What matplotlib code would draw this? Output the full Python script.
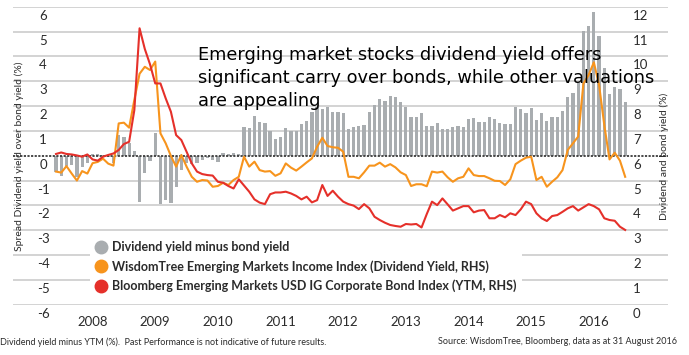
import numpy as np
import pandas as pd
import matplotlib
matplotlib.use("Agg")
import matplotlib.pyplot as plt
import matplotlib.transforms as mtransforms
from matplotlib.lines import Line2D

plt.rcParams['font.family'] = ['Lato', 'DejaVu Sans']

# monthly observations, Jun 2007 - Jul 2016
months = pd.date_range("2007-06-01", periods=110, freq="MS")

# dividend yield minus bond yield (LHS, %)
spread = [-0.64, -0.82, -0.42, -0.38, -0.87, -0.44, -0.31, 0.07, 0.07, 0.03,
          -0.04, -0.31, 0.83, 0.77, 0.50, 0.20, -1.85, -0.70, -0.20, 0.93,
          -1.95, -1.80, -1.90, -1.27, -0.56, -0.30, -0.33, -0.31, -0.17, -0.11,
          -0.17, -0.24, 0.09, 0.07, 0.12, 0.08, 1.17, 1.13, 1.60, 1.37,
          1.30, 0.99, 0.66, 0.77, 1.10, 1.00, 1.00, 1.28, 1.41, 1.77,
          1.97, 1.87, 1.97, 1.74, 1.74, 1.70, 1.06, 1.14, 1.19, 1.23,
          1.74, 2.04, 2.27, 2.21, 2.42, 2.35, 2.15, 1.97, 1.54, 1.54,
          1.70, 1.19, 1.19, 1.30, 1.06, 1.06, 1.17, 1.19, 1.17, 1.48,
          1.50, 1.34, 1.34, 1.57, 1.48, 1.30, 1.26, 1.26, 1.95, 1.88,
          1.70, 1.91, 1.44, 1.70, 1.40, 1.57, 1.54, 1.80, 2.38, 2.51,
          2.98, 5.03, 5.22, 5.77, 4.82, 3.52, 2.47, 2.75, 2.67, 2.17]

# WisdomTree EM Income Index dividend yield (RHS, %)
div_yield = [5.36, 5.32, 5.58, 5.28, 5.00, 5.38, 5.28, 5.70, 5.75, 5.88,
             5.68, 5.60, 7.30, 7.33, 7.13, 8.25, 9.30, 9.58, 9.45, 9.79,
             6.90, 6.50, 5.99, 5.56, 6.03, 5.56, 5.15, 4.95, 5.02, 5.00,
             4.75, 4.78, 4.91, 4.82, 5.02, 5.15, 5.96, 5.56, 5.76, 5.42,
             5.36, 5.38, 5.19, 5.29, 5.69, 5.52, 5.40, 5.56, 5.73, 5.89,
             6.36, 6.72, 6.39, 6.34, 6.32, 6.16, 5.15, 5.15, 5.09, 5.33,
             5.60, 5.60, 5.72, 5.56, 5.66, 5.53, 5.33, 5.22, 4.78, 4.85,
             4.85, 4.77, 5.36, 5.32, 5.36, 5.13, 4.95, 5.09, 5.15, 5.49,
             5.22, 5.18, 5.18, 5.09, 4.99, 4.98, 4.82, 5.05, 5.66, 5.80,
             5.92, 5.96, 5.02, 5.15, 4.75, 4.95, 5.13, 5.42, 6.23, 6.50,
             6.77, 8.90, 9.25, 9.76, 8.85, 7.23, 5.85, 6.12, 5.80, 5.15]

# Bloomberg EM USD IG Corporate Bond Index YTM (RHS, %)
bond_ytm = [6.07, 6.13, 6.07, 6.05, 6.01, 5.96, 6.05, 5.85, 5.80, 5.96,
            6.03, 6.09, 6.23, 6.47, 6.56, 7.84, 11.13, 10.30, 9.68, 8.91,
            8.91, 8.31, 7.77, 6.83, 6.63, 6.16, 5.69, 5.36, 5.26, 5.22,
            5.20, 4.95, 4.91, 4.78, 4.68, 5.05, 4.80, 4.55, 4.24, 4.11,
            4.05, 4.45, 4.52, 4.52, 4.55, 4.48, 4.38, 4.24, 4.35, 4.12,
            4.21, 4.82, 4.38, 4.59, 4.35, 4.15, 4.05, 3.99, 3.85, 4.05,
            3.88, 3.54, 3.41, 3.30, 3.21, 3.17, 3.14, 3.25, 3.23, 3.25,
            3.11, 3.65, 4.15, 4.01, 4.28, 4.04, 3.79, 3.88, 3.97, 3.97,
            3.72, 3.79, 3.81, 3.48, 3.48, 3.61, 3.52, 3.68, 3.61, 3.84,
            4.15, 4.05, 3.68, 3.48, 3.37, 3.57, 3.61, 3.74, 3.88, 3.97,
            3.79, 3.92, 4.05, 3.97, 3.84, 3.48, 3.41, 3.38, 3.14, 3.01]

left_ticks = list(range(-6, 7))
right_ticks = list(range(0, 13))
labels = ["Dividend yield minus bond yield",
          "WisdomTree Emerging Markets Income Index (Dividend Yield, RHS)",
          "Bloomberg Emerging Markets USD IG Corporate Bond Index (YTM, RHS)"]

GREY = '#a9adb0'
ORANGE = '#f7941d'
RED = '#e5302a'
GRID = '#c8c8c8'
TXT = '#2b2b2b'

W, H = 689, 355
fig = plt.figure(figsize=(W / 100, H / 100), dpi=100)
ax = fig.add_axes([13 / W, 1 - 304.7 / H, 655 / W, 298 / H])

x = np.arange(len(months))
ax.bar(x, spread, width=0.62, color=GREY, zorder=2)
ax.set_xlim(-8.24, 117.2)
ax.set_ylim(-6, 6)
for v in left_ticks:
    if v != 0:
        ax.axhline(v, color=GRID, lw=1.1, zorder=1)
ax.axhline(0, color='#3a3a3a', lw=1.3, ls=(0, (1.2, 0.8)), zorder=3)

# years centred on January
jan = [i for i, m in enumerate(months) if m.month == 1]
ax.set_xticks(jan)
ax.set_xticklabels([str(months[i].year) for i in jan])
ax.tick_params(axis='x', length=0, pad=8, labelsize=9.5, labelcolor=TXT)
ax.set_yticks([])
for s in ax.spines.values():
    s.set_visible(False)

# y labels sit just under their gridlines
off = mtransforms.ScaledTranslation(0, -0.09, fig.dpi_scale_trans)
tl = mtransforms.blended_transform_factory(fig.transFigure, ax.transData) + off
for v in left_ticks:
    ax.text(43 / W, v, str(v), transform=tl, ha='center', va='center',
            fontsize=9.5, color=TXT, clip_on=False, zorder=5)

ax2 = ax.twinx()
ax2.set_ylim(0, 12)
ax2.plot(x, div_yield, color=ORANGE, lw=1.5, zorder=3)
ax2.plot(x, bond_ytm, color=RED, lw=1.5, zorder=4)
ax2.set_yticks([])
for s in ax2.spines.values():
    s.set_visible(False)
tr = mtransforms.blended_transform_factory(fig.transFigure, ax2.transData) + off
for v in right_ticks:
    ax2.text(633 / W, v, str(v), transform=tr, ha='left', va='center',
             fontsize=9.5, color=TXT, clip_on=False)

handles = [Line2D([], [], ls='none', marker='o', markersize=9, color=c)
           for c in (GREY, ORANGE, RED)]
leg = ax2.legend(handles, labels, loc='upper left',
                 bbox_to_anchor=(90 / W, 1 - 236 / H), bbox_transform=fig.transFigure,
                 frameon=True, facecolor='white', edgecolor='none', framealpha=1,
                 fancybox=False, handlelength=0.9, handletextpad=0.5,
                 borderpad=0.4, labelspacing=0.55, borderaxespad=0,
                 prop={'size': 9, 'weight': 'bold'})
for t in leg.get_texts():
    t.set_color(TXT)

fig.text(19 / W, 1 - 156 / H, "Spread Dividend yield over bond yield (%)",
         rotation=90, ha='center', va='center', fontsize=7.5, color=TXT)
fig.text(664 / W, 1 - 156 / H, "Dividend and bond yield (%)",
         rotation=90, ha='center', va='center', fontsize=7.5, color=TXT)

fig.text(198 / W, 1 - 46 / H,
         "Emerging market stocks dividend yield offers\n"
         "significant carry over bonds, while other valuations\n"
         "are appealing",
         ha='left', va='top', fontsize=12.8, linespacing=1.35,
         family='DejaVu Sans', color='black')

fig.text(0.5 / W, 1 - 342 / H,
         "Dividend yield minus YTM (%).  Past Performance is not indicative of future results.",
         ha='left', va='center', fontsize=6.5, color=TXT)
fig.text(677 / W, 1 - 342 / H,
         "Source: WisdomTree, Bloomberg, data as at 31 August 2016",
         ha='right', va='center', fontsize=6.5, color=TXT)

fig.savefig("out.png", dpi=100)
